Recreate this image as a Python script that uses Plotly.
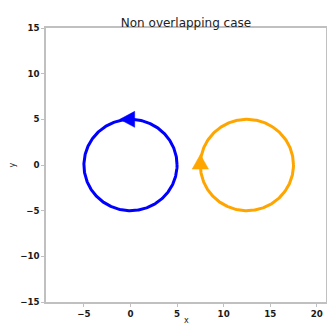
import numpy as np
import plotly.graph_objects as go

# ---- data ----
circle_names = ["blue", "orange"]
center_x = [0.0, 12.5]
center_y = [0.0, 0.0]
radii = [5.0, 5.0]
arrow_angle_deg = [90.0, 180.0]   # where the arrow sits on the circle
arrow_direction = [1, -1]         # +1 counter-clockwise, -1 clockwise
colors = ["#0000ff", "#ffa500"]

x_ticks = [-5, 0, 5, 10, 15, 20]
y_ticks = [-15, -10, -5, 0, 5, 10, 15]
x_range = [-9.07, 20.99]
y_range = [-15, 15]
title_text = "Non overlapping case"
x_label = "x"
y_label = "y"

# arrow-head geometry (data units)
head_tip = 1.15
head_back = 0.45
head_width = 1.75

fig = go.Figure()
theta = np.linspace(0, 2 * np.pi, 361)
for cx, cy, r, ang, d, col in zip(center_x, center_y, radii, arrow_angle_deg, arrow_direction, colors):
    fig.add_trace(go.Scatter(x=cx + r * np.cos(theta), y=cy + r * np.sin(theta), mode="lines",
                             line=dict(color=col, width=3), hoverinfo="skip", showlegend=False))
    a = np.deg2rad(ang)
    px, py = cx + r * np.cos(a), cy + r * np.sin(a)
    tx, ty = -d * np.sin(a), d * np.cos(a)
    nx, ny = np.cos(a), np.sin(a)
    tip = (px + tx * head_tip, py + ty * head_tip)
    bx, by = px - tx * head_back, py - ty * head_back
    b1 = (bx + nx * head_width / 2, by + ny * head_width / 2)
    b2 = (bx - nx * head_width / 2, by - ny * head_width / 2)
    fig.add_trace(go.Scatter(x=[tip[0], b1[0], b2[0], tip[0]], y=[tip[1], b1[1], b2[1], tip[1]],
                             mode="lines", fill="toself", fillcolor=col,
                             line=dict(color=col, width=0.5), hoverinfo="skip", showlegend=False))

axis_common = dict(showgrid=False, zeroline=False, showline=True, linecolor="#c0c0c0", linewidth=1.5,
                   mirror=True, ticks="outside", ticklen=3, tickwidth=1, tickcolor="#c0c0c0",
                   automargin=False,
                   tickfont=dict(family="DejaVu Sans", size=8.7, color="#1a1a1a", weight="bold"))

label_font = dict(family="DejaVu Sans", size=8, color="#222222")

fig.update_layout(
    width=327, height=324,
    margin=dict(l=46, r=1, t=28, b=22),
    paper_bgcolor="white", plot_bgcolor="white",
    title=dict(text=title_text, x=0.5, xref="paper", xanchor="center", y=1, yref="paper",
               yanchor="bottom", pad=dict(b=1),
               font=dict(family="DejaVu Sans", size=12, color="#222222")),
    xaxis=dict(range=x_range, tickvals=x_ticks, **axis_common),
    yaxis=dict(range=y_range, tickvals=y_ticks, **axis_common),
    annotations=[
        dict(text=x_label, xref="paper", yref="paper", x=0.5, y=-0.069, xanchor="center",
             yanchor="middle", showarrow=False, font=label_font),
        dict(text=y_label, xref="paper", yref="paper", x=-0.12, y=0.5, xanchor="center",
             yanchor="middle", textangle=-90, showarrow=False, font=label_font),
    ],
)

fig.write_html("out.html")
